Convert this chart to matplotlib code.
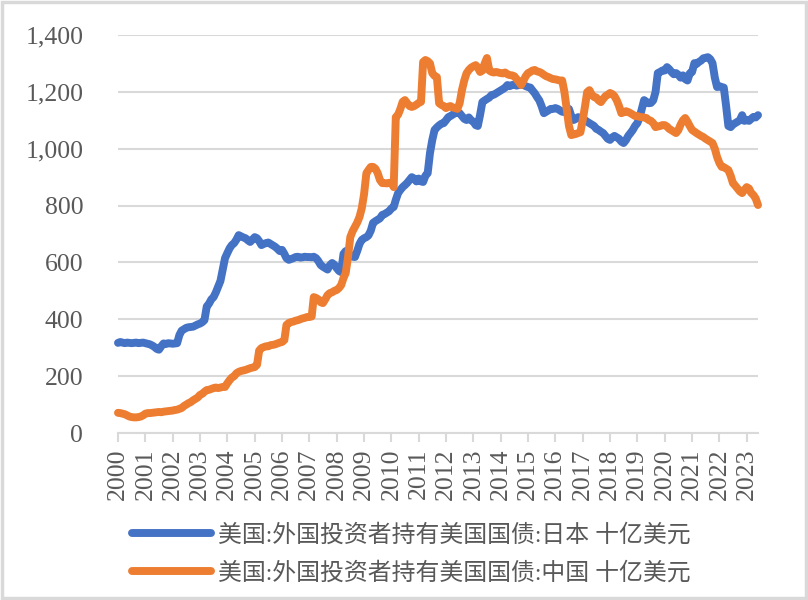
import numpy as np
import pandas as pd
import matplotlib
matplotlib.use("Agg")
import matplotlib.pyplot as plt
import matplotlib.dates as mdates
from matplotlib.patches import Rectangle

# monthly holdings, billion USD, Jan 2000 onwards
japan = [
    317, 320, 318, 316, 318, 317, 316, 317, 318, 316, 317, 318,  # 2000
    316, 314, 312, 308, 303, 296, 293, 305, 315, 313, 316, 315,  # 2001
    314, 315, 316, 345, 360, 365, 370, 372, 373, 374, 378, 382,  # 2002
    385, 390, 397, 445, 455, 470, 478, 495, 515, 535, 575, 615,  # 2003
    633, 650, 661, 668, 680, 696, 692, 688, 685, 678, 672, 680,  # 2004
    689, 685, 675, 661, 665, 668, 670, 665, 660, 655, 648, 640,  # 2005
    644, 630, 615, 609, 612, 615, 619, 620, 617, 618, 620, 619,  # 2006
    619, 618, 620, 615, 605, 591, 585, 580, 575, 590, 598, 592,  # 2007
    580, 570, 566, 630, 640, 635, 625, 620, 619, 640, 665, 679,  # 2008
    685, 689, 695, 712, 739, 745, 750, 755, 767, 770, 775, 780,  # 2009
    790, 795, 820, 844, 855, 865, 872, 880, 890, 900, 895, 885,  # 2010
    895, 885, 883, 905, 914, 985, 1030, 1066, 1075, 1082, 1088, 1090,  # 2011
    1100, 1111, 1115, 1120, 1125, 1129, 1125, 1115, 1105, 1101, 1110, 1100,  # 2012
    1095, 1083, 1080, 1120, 1164, 1170, 1175, 1180, 1189, 1190, 1195, 1200,  # 2013
    1205, 1210, 1215, 1224, 1220, 1224, 1225, 1222, 1224, 1226, 1225, 1220,  # 2014
    1217, 1215, 1205, 1195, 1182, 1170, 1150, 1125, 1130, 1135, 1140, 1140,  # 2015
    1143, 1140, 1135, 1130, 1129, 1135, 1140, 1115, 1101, 1105, 1111, 1108,  # 2016
    1101, 1100, 1095, 1090, 1085, 1080, 1070, 1066, 1060, 1055, 1045, 1035,  # 2017
    1031, 1040, 1045, 1040, 1035, 1025, 1020, 1030, 1045, 1055, 1066, 1080,  # 2018
    1090, 1111, 1140, 1171, 1165, 1160, 1161, 1170, 1200, 1266, 1270, 1275,  # 2019
    1275, 1287, 1280, 1270, 1262, 1266, 1260, 1250, 1258, 1245, 1240, 1265,  # 2020
    1270, 1301, 1298, 1305, 1310, 1318, 1320, 1322, 1315, 1301, 1250, 1217,  # 2021
    1220, 1217, 1215, 1150, 1080, 1076, 1085, 1090, 1095, 1100, 1118, 1098,  # 2022
    1101, 1098, 1105, 1112, 1110, 1118,  # 2023
]

china = [
    71, 70, 68, 66, 62, 58, 56, 55, 55, 56, 58, 62,  # 2000
    68, 70, 70, 71, 72, 73, 74, 73, 75, 76, 77, 78,  # 2001
    79, 81, 82, 85, 88, 95, 100, 105, 109, 115, 120, 125,  # 2002
    134, 138, 145, 151, 152, 155, 158, 160, 158, 160, 162, 162,  # 2003
    175, 186, 195, 200, 210, 215, 218, 220, 222, 225, 228, 230,  # 2004
    232, 240, 290, 299, 302, 305, 305, 309, 310, 312, 315, 318,  # 2005
    320, 327, 380, 387, 390, 392, 395, 397, 400, 403, 405, 408,  # 2006
    408, 410, 478, 475, 470, 460, 457, 470, 485, 492, 495, 500,  # 2007
    503, 510, 520, 545, 563, 620, 689, 710, 725, 740, 760, 790,  # 2008
    840, 914, 925, 936, 936, 930, 915, 890, 879, 879, 878, 880,  # 2009
    879, 865, 1111, 1120, 1140, 1165, 1171, 1160, 1150, 1147, 1150, 1155,  # 2010
    1161, 1165, 1305, 1312, 1308, 1300, 1266, 1256, 1252, 1160, 1154, 1150,  # 2011
    1143, 1148, 1150, 1145, 1143, 1140, 1160, 1206, 1240, 1265, 1277, 1285,  # 2012
    1290, 1294, 1285, 1270, 1275, 1300, 1319, 1275, 1270, 1268, 1270, 1268,  # 2013
    1266, 1265, 1268, 1262, 1259, 1258, 1255, 1245, 1235, 1224, 1240, 1255,  # 2014
    1266, 1270, 1275, 1277, 1272, 1270, 1266, 1260, 1255, 1252, 1248, 1245,  # 2015
    1244, 1242, 1240, 1240, 1200, 1140, 1080, 1048, 1050, 1052, 1055, 1058,  # 2016
    1101, 1150, 1199, 1206, 1190, 1182, 1180, 1170, 1164, 1175, 1185, 1190,  # 2017
    1196, 1192, 1185, 1170, 1150, 1125, 1128, 1132, 1129, 1125, 1120, 1115,  # 2018
    1115, 1112, 1111, 1110, 1108, 1101, 1098, 1090, 1076, 1078, 1080, 1083,  # 2019
    1083, 1078, 1070, 1065, 1060, 1055, 1065, 1085, 1100, 1108, 1095, 1080,  # 2020
    1066, 1060, 1055, 1050, 1045, 1041, 1035, 1030, 1025, 1020, 1000, 971,  # 2021
    950, 936, 935, 930, 925, 905, 879, 870, 860, 850, 844, 855,  # 2022
    865, 860, 845, 837, 825, 802,  # 2023
]

labels = ["美国:外国投资者持有美国国债:日本 十亿美元",
          "美国:外国投资者持有美国国债:中国 十亿美元"]
colors = ["#4472C4", "#ED7D31"]
yticks = [0, 200, 400, 600, 800, 1000, 1200, 1400]

dates = pd.date_range("2000-01-01", periods=len(japan), freq="MS")

text_color = "#595959"
grid_color = "#D9D9D9"
num_font = ["Liberation Serif", "Noto Sans CJK SC"]

fig = plt.figure(figsize=(8.08, 6.0), dpi=100)
ax = fig.add_axes([118 / 808, 1 - 433 / 600, 640 / 808, 398 / 600])

for vals, c, lab in zip([japan, china], colors, labels):
    ax.plot(dates, vals, color=c, lw=5.7, solid_capstyle="round",
            solid_joinstyle="round", label=lab, clip_on=False)

ax.set_ylim(0, 1400)
ax.set_xlim(dates[0], dates[-1])
ax.set_yticks(yticks)
ax.set_yticklabels([f"{v:,}" for v in yticks], fontfamily=num_font,
                   fontsize=18.5, color=text_color)
ax.yaxis.grid(True, color=grid_color, lw=1.5)
ax.set_axisbelow(True)
ax.tick_params(axis="y", length=0, pad=25)

ax.xaxis.set_major_locator(mdates.YearLocator())
ax.xaxis.set_major_formatter(mdates.DateFormatter("%Y"))
ax.tick_params(axis="x", length=6.5, width=1.5, color=grid_color, pad=5,
               labelrotation=90, labelsize=18.5, labelcolor=text_color)
for t in ax.get_xticklabels():
    t.set_fontfamily(num_font)

for side in ["left", "right", "top"]:
    ax.spines[side].set_visible(False)
ax.spines["bottom"].set_color(grid_color)
ax.spines["bottom"].set_linewidth(1.5)

handles, labs = ax.get_legend_handles_labels()
leg = fig.legend(handles, labs, loc="upper left",
                 bbox_to_anchor=(132 / 808, 1 - 524 / 600),
                 borderaxespad=0, borderpad=0,
                 frameon=False, handlelength=3.3, handletextpad=0.3,
                 labelspacing=0.65,
                 prop={"family": num_font, "size": 17.2})
for t in leg.get_texts():
    t.set_color(text_color)

# chart area border
fig.patches.append(Rectangle((0.003, 0.004), 0.994, 0.992, transform=fig.transFigure,
                             fill=False, edgecolor=grid_color, lw=2.5))

fig.savefig("out.png", dpi=100)
